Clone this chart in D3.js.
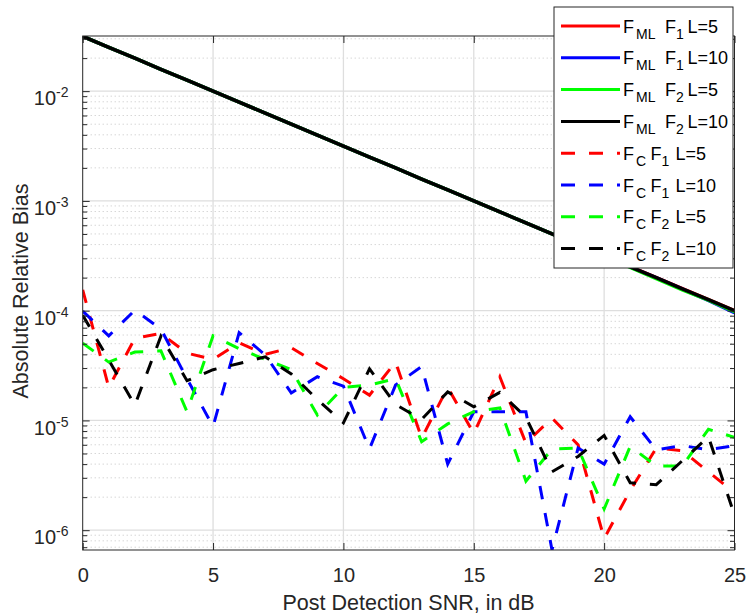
<!DOCTYPE html>
<html><head><meta charset="utf-8">
<script src="https://cdn.jsdelivr.net/npm/d3@7"></script>
<style>
body{margin:0;background:#fff;}
svg{display:block;font-family:"Liberation Sans",Arial,Helvetica,sans-serif;}
</style>
</head><body>
<svg id="chart" width="747" height="613"></svg>
<script>
// ---------------- data ----------------
const snr = [0,1,2,3,4,5,6,7,8,9,10,11,12,13,14,15,16,17,18,19,20,21,22,23,24,25];

const mlF1L5  = [3.16e-2,2.51e-2,2.00e-2,1.58e-2,1.26e-2,1.00e-2,7.94e-3,6.31e-3,5.01e-3,3.98e-3,3.16e-3,2.51e-3,2.00e-3,1.58e-3,1.26e-3,1.00e-3,7.94e-4,6.31e-4,5.01e-4,3.98e-4,3.17e-4,2.52e-4,2.00e-4,1.59e-4,1.26e-4,1.00e-4];
const mlF1L10 = [3.16e-2,2.51e-2,2.00e-2,1.58e-2,1.26e-2,1.00e-2,7.94e-3,6.31e-3,5.01e-3,3.98e-3,3.16e-3,2.51e-3,2.00e-3,1.58e-3,1.26e-3,1.00e-3,7.94e-4,6.31e-4,5.01e-4,3.97e-4,3.15e-4,2.50e-4,1.99e-4,1.57e-4,1.24e-4,9.6e-5];
const mlF2L5  = [3.16e-2,2.51e-2,2.00e-2,1.58e-2,1.26e-2,1.00e-2,7.94e-3,6.31e-3,5.01e-3,3.98e-3,3.16e-3,2.51e-3,2.00e-3,1.58e-3,1.26e-3,1.00e-3,7.94e-4,6.30e-4,5.00e-4,3.96e-4,3.14e-4,2.48e-4,1.96e-4,1.55e-4,1.25e-4,9.8e-5];
const mlF2L10 = [3.16e-2,2.51e-2,2.00e-2,1.58e-2,1.26e-2,1.00e-2,7.94e-3,6.31e-3,5.01e-3,3.98e-3,3.16e-3,2.51e-3,2.00e-3,1.58e-3,1.26e-3,1.00e-3,7.94e-4,6.31e-4,5.01e-4,3.98e-4,3.16e-4,2.51e-4,2.00e-4,1.58e-4,1.26e-4,1.00e-4];

const cF1L5  = [1.55e-4,2.0e-5,5.6e-5,6.2e-5,4.1e-5,3.6e-5,5.1e-5,4.0e-5,4.6e-5,3.3e-5,2.4e-5,1.7e-5,3.4e-5,6.9e-6,2.0e-5,7.6e-6,2.5e-5,6.2e-6,1.05e-5,6.0e-6,8.4e-7,2.3e-6,5.6e-6,5.3e-6,3.4e-6,2.2e-6];
const cF1L10 = [9.9e-5,5.9e-5,1.01e-4,6.8e-5,2.4e-5,8.8e-6,6.3e-5,3.95e-5,1.78e-5,2.5e-5,2.05e-5,5.5e-6,2.1e-5,3.1e-5,4.0e-6,1.2e-5,1.2e-5,1.2e-5,6.6e-7,5.6e-6,4.0e-6,1.08e-5,5.4e-6,5.9e-6,5.4e-6,5.9e-6];
const cF2L5  = [5.05e-5,3.4e-5,4.2e-5,4.3e-5,1.2e-5,5.9e-5,4.5e-5,3.6e-5,2.9e-5,1.12e-5,2.0e-5,2.1e-5,2.4e-5,6.4e-6,9.3e-6,1.2e-5,1.3e-5,2.8e-6,5.5e-6,5.6e-6,1.56e-6,5.8e-6,3.85e-6,3.85e-6,8.3e-6,7.0e-6];
const cF2L10 = [9.1e-5,3.55e-5,1.38e-5,5.85e-5,2.3e-5,2.9e-5,3.3e-5,3.8e-5,2.65e-5,1.55e-5,9.5e-6,2.95e-5,1.4e-5,1.02e-5,1.82e-5,1.33e-5,1.8e-5,1.07e-5,3.4e-6,4.7e-6,7.3e-6,2.7e-6,2.6e-6,4.3e-6,7.1e-6,1.37e-6];

const xTicks = [0,5,10,15,20,25];
const yTicks = [1e-6,1e-5,1e-4,1e-3,1e-2];
const yTickExp = ["-6","-5","-4","-3","-2"];
const yDomain = [6.6e-7, 0.0318];

const legendEst = ["ML","ML","ML","ML","C","C","C","C"];
const legendF   = ["1","1","2","2","1","1","2","2"];
const legendL   = ["L=5","L=10","L=5","L=10","L=5","L=10","L=5","L=10"];

// ---------------- styles ----------------
const seriesValues = [mlF1L5, mlF1L10, mlF2L5, mlF2L10, cF1L5, cF1L10, cF2L5, cF2L10];
const seriesColor  = ["#ff0000","#0000ff","#00ff00","#000000","#ff0000","#0000ff","#00ff00","#000000"];
const seriesDashed = [false,false,false,false,true,true,true,true];

const L = 82.7, R = 734.5, T = 36, B = 550;
const axisColor = "#262626";
const dash = "13.5,14";

const svg = d3.select("#chart");
const x = d3.scaleLinear().domain([0,25]).range([L,R]);
const y = d3.scaleLog().domain(yDomain).range([B,T]);

// minor y values
const minorVals = [];
for (let e = -7; e <= -2; e++) for (let k = 2; k <= 9; k++) {
  const v = k * Math.pow(10, e);
  if (v >= yDomain[0] && v <= yDomain[1]) minorVals.push(v);
}

// ---------------- grid ----------------
const grid = svg.append("g");
grid.selectAll("line.minor").data(minorVals).join("line")
  .attr("x1", L).attr("x2", R)
  .attr("y1", d => y(d)).attr("y2", d => y(d))
  .attr("stroke", "#c4c4c4").attr("stroke-width", 1)
  .attr("stroke-dasharray", "1,3");
grid.selectAll("line.majy").data(yTicks).join("line")
  .attr("x1", L).attr("x2", R)
  .attr("y1", d => y(d)).attr("y2", d => y(d))
  .attr("stroke", "#dedede").attr("stroke-width", 1.3);
grid.selectAll("line.majx").data(xTicks.filter(d => d > 0 && d < 25)).join("line")
  .attr("x1", d => x(d)).attr("x2", d => x(d))
  .attr("y1", T).attr("y2", B)
  .attr("stroke", "#dedede").attr("stroke-width", 1.3);

// ---------------- lines ----------------
svg.append("clipPath").attr("id","clip").append("rect")
  .attr("x", L).attr("y", T).attr("width", R - L).attr("height", B - T);
const line = d3.line().x((d,i) => x(snr[i])).y(d => y(d));
const lines = svg.append("g").attr("clip-path","url(#clip)");
seriesValues.forEach((vals, i) => {
  lines.append("path").datum(vals)
    .attr("d", line)
    .attr("fill","none")
    .attr("stroke", seriesColor[i])
    .attr("stroke-width", seriesDashed[i] ? 3 : 3.5)
    .attr("stroke-dasharray", seriesDashed[i] ? dash : null);
});

// ---------------- axes ----------------
function styleAxis(g){
  g.select(".domain").remove();
  g.selectAll(".tick line").attr("stroke", axisColor).attr("stroke-width", 1);
  g.attr("font-family", null).attr("font-size", null);
}
const gx = svg.append("g").attr("transform", `translate(0,${B})`)
  .call(d3.axisBottom(x).tickValues(xTicks).tickSizeInner(-7).tickSizeOuter(0).tickPadding(18).tickFormat(d3.format("d")));
styleAxis(gx);
gx.selectAll("text").attr("font-size", 20).attr("fill", axisColor);

svg.append("g").attr("transform", `translate(0,${T})`)
  .call(d3.axisTop(x).tickValues(xTicks).tickSizeInner(-7).tickSizeOuter(0).tickFormat(""))
  .call(styleAxis);

const gy = svg.append("g").attr("transform", `translate(${L},0)`)
  .call(d3.axisLeft(y).tickValues(yTicks).tickSizeInner(-7).tickSizeOuter(0).tickPadding(14.2).tickFormat(""));
styleAxis(gy);
gy.selectAll(".tick text").each(function(d, i){
  const t = d3.select(this).attr("dy", null).attr("fill", axisColor).attr("text-anchor","end");
  t.append("tspan").attr("font-size", 20).attr("dy", 13.7).text("10");
  t.append("tspan").attr("font-size", 14).attr("dy", -8).text(yTickExp[i]);
});
svg.append("g").attr("transform", `translate(${L},0)`)
  .call(d3.axisLeft(y).tickValues(minorVals).tickSizeInner(-4.5).tickSizeOuter(0).tickFormat(""))
  .call(styleAxis);
svg.append("g").attr("transform", `translate(${R},0)`)
  .call(d3.axisRight(y).tickValues(yTicks).tickSizeInner(-7).tickSizeOuter(0).tickFormat(""))
  .call(styleAxis);
svg.append("g").attr("transform", `translate(${R},0)`)
  .call(d3.axisRight(y).tickValues(minorVals).tickSizeInner(-4.5).tickSizeOuter(0).tickFormat(""))
  .call(styleAxis);

svg.append("rect").attr("x", L).attr("y", T).attr("width", R - L).attr("height", B - T)
  .attr("fill","none").attr("stroke", axisColor).attr("stroke-width", 1);

// axis labels
svg.append("text").attr("x", (L + R) / 2).attr("y", 609.5)
  .attr("text-anchor","middle").attr("font-size", 21.5).attr("fill", axisColor)
  .text("Post Detection SNR, in dB");
svg.append("text").attr("transform", `translate(28,291) rotate(-90)`)
  .attr("text-anchor","middle").attr("font-size", 21.5).attr("fill", axisColor)
  .text("Absolute Relative Bias");

// ---------------- legend ----------------
const lg = svg.append("g");
lg.append("rect").attr("x", 554).attr("y", 7).attr("width", 179).attr("height", 261)
  .attr("fill","#fff").attr("stroke", axisColor).attr("stroke-width", 1);
legendEst.forEach((est, i) => {
  const cy = 26 + i * 31.8;
  lg.append("line").attr("x1", 561).attr("x2", 620).attr("y1", cy).attr("y2", cy)
    .attr("stroke", seriesColor[i]).attr("stroke-width", 3)
    .attr("stroke-dasharray", seriesDashed[i] ? "14,14" : null);
  const isML = est === "ML";
  const base = cy + 6.5;
  const sub = cy + 12.5;
  const g = lg.append("g").attr("fill", "#000");
  g.append("text").attr("x", 623).attr("y", base).attr("font-size", 18).text("F");
  g.append("text").attr("x", 636).attr("y", sub).attr("font-size", 14).text(est);
  g.append("text").attr("x", isML ? 665 : 650.5).attr("y", base).attr("font-size", 18).text("F");
  g.append("text").attr("x", isML ? 676 : 661.5).attr("y", sub).attr("font-size", 14).text(legendF[i]);
  g.append("text").attr("x", isML ? 687.5 : 675.5).attr("y", base).attr("font-size", 18).text(legendL[i]);
});
</script>
</body></html>
